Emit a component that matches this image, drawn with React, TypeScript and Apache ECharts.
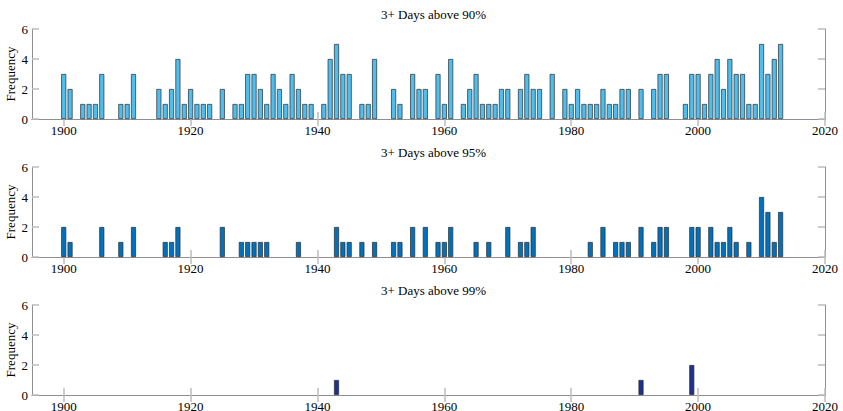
import React, { useEffect, useRef } from "react";
import * as echarts from "echarts";

const titles = ["3+ Days above 90%", "3+ Days above 95%", "3+ Days above 99%"];
const yName = "Frequency";
const xTicks = [1900, 1920, 1940, 1960, 1980, 2000, 2020];
const yTicks = [0, 2, 4, 6];

const years90 = [1900, 1901, 1903, 1904, 1905, 1906, 1909, 1910, 1911, 1915, 1916, 1917, 1918, 1919, 1920, 1921, 1922, 1923, 1925, 1927, 1928, 1929, 1930, 1931, 1932, 1933, 1934, 1935, 1936, 1937, 1938, 1939, 1941, 1942, 1943, 1944, 1945, 1947, 1948, 1949, 1952, 1953, 1955, 1956, 1957, 1959, 1960, 1961, 1963, 1964, 1965, 1966, 1967, 1968, 1969, 1970, 1972, 1973, 1974, 1975, 1977, 1979, 1980, 1981, 1982, 1983, 1984, 1985, 1986, 1987, 1988, 1989, 1991, 1993, 1994, 1995, 1998, 1999, 2000, 2001, 2002, 2003, 2004, 2005, 2006, 2007, 2008, 2009, 2010, 2011, 2012, 2013];
const counts90 = [3, 2, 1, 1, 1, 3, 1, 1, 3, 2, 1, 2, 4, 1, 2, 1, 1, 1, 2, 1, 1, 3, 3, 2, 1, 3, 2, 1, 3, 2, 1, 1, 1, 4, 5, 3, 3, 1, 1, 4, 2, 1, 3, 2, 2, 3, 1, 4, 1, 2, 3, 1, 1, 1, 2, 2, 2, 3, 2, 2, 3, 2, 1, 2, 1, 1, 1, 2, 1, 1, 2, 2, 2, 2, 3, 3, 1, 3, 3, 1, 3, 4, 2, 4, 3, 3, 1, 1, 5, 3, 4, 5];

const years95 = [1900, 1901, 1906, 1909, 1911, 1916, 1917, 1918, 1925, 1928, 1929, 1930, 1931, 1932, 1937, 1943, 1944, 1945, 1947, 1949, 1952, 1953, 1955, 1957, 1959, 1960, 1961, 1965, 1967, 1970, 1972, 1973, 1974, 1983, 1985, 1987, 1988, 1989, 1991, 1993, 1994, 1995, 1999, 2000, 2002, 2003, 2004, 2005, 2006, 2008, 2010, 2011, 2012, 2013];
const counts95 = [2, 1, 2, 1, 2, 1, 1, 2, 2, 1, 1, 1, 1, 1, 1, 2, 1, 1, 1, 1, 1, 1, 2, 2, 1, 1, 2, 1, 1, 2, 1, 1, 2, 1, 2, 1, 1, 1, 2, 1, 2, 2, 2, 2, 2, 1, 1, 2, 1, 1, 4, 3, 1, 3];

const years99 = [1943, 1991, 1999];
const counts99 = [1, 1, 2];

const colors = ["#4DBEEE", "#0072BD", "#1E3190"];
const panelYears = [years90, years95, years99];
const panelCounts = [counts90, counts95, counts99];

const FONT = "Liberation Serif";
const GRID_LEFT = 32;
const GRID_WIDTH = 793;
const GRID_TOPS = [29, 167, 305];
const GRID_HEIGHT = 90;
const LINE = "#8f8f8f";
const TICK = "#bdbdbd";

export default function App() {
  const ref = useRef<HTMLDivElement>(null);
  useEffect(() => {
    document.body.style.margin = "0";
    if (!ref.current) return;
    const chart = echarts.init(ref.current, null, { renderer: "svg" });
    const grid: any[] = [];
    const xAxis: any[] = [];
    const yAxis: any[] = [];
    const series: any[] = [];
    const title: any[] = [];
    const graphic: any[] = [];
    for (let i = 0; i < 3; i++) {
      grid.push({
        left: GRID_LEFT,
        top: GRID_TOPS[i],
        width: GRID_WIDTH,
        height: GRID_HEIGHT,
        containLabel: false,
        outerBoundsMode: "none",
      });
      title.push({
        text: titles[i],
        left: GRID_LEFT + GRID_WIDTH / 2,
        top: GRID_TOPS[i] - 26,
        textAlign: "center",
        textStyle: { fontFamily: FONT, fontSize: 13, fontWeight: "normal", color: "#000" },
      });
      graphic.push({
        type: "text",
        x: 10,
        y: GRID_TOPS[i] + GRID_HEIGHT / 2,
        rotation: Math.PI / 2,
        style: {
          text: yName,
          fontFamily: FONT,
          fontSize: 13,
          fill: "#000",
          align: "center",
          verticalAlign: "middle",
        },
      });
      const xBase = {
        type: "value",
        gridIndex: i,
        min: 1895,
        max: 2020,
        splitLine: { show: false },
        axisLine: { show: true, lineStyle: { color: LINE, width: 1 } },
        axisTick: { show: true, inside: true, length: 7, customValues: xTicks, lineStyle: { color: TICK, width: 1.5 } },
      };
      xAxis.push({
        ...xBase,
        position: "bottom",
        axisLabel: {
          show: true,
          customValues: xTicks,
          formatter: (v: number) => String(v),
          fontFamily: FONT,
          fontSize: 13,
          color: "#000",
          margin: 5,
        },
      });
      xAxis.push({
        ...xBase,
        position: "top",
        axisLabel: { show: false },
      });
      const yBase = {
        type: "value",
        gridIndex: i,
        min: 0,
        max: 6,
        interval: 2,
        splitLine: { show: false },
        axisLine: { show: true, lineStyle: { color: LINE, width: 1 } },
        axisTick: { show: true, inside: true, length: 7, lineStyle: { color: TICK, width: 1.5 } },
      };
      yAxis.push({
        ...yBase,
        position: "left",
        axisLabel: { show: true, customValues: yTicks, fontFamily: FONT, fontSize: 13, color: "#000", margin: 4 },
      });
      yAxis.push({
        ...yBase,
        position: "right",
        axisLabel: { show: false },
      });
      series.push({
        type: "bar",
        xAxisIndex: i * 2,
        yAxisIndex: i * 2,
        barWidth: 5,
        data: panelYears[i].map((y, k) => [y, panelCounts[i][k]]),
        itemStyle: { color: colors[i], borderColor: "#2a2a2a", borderWidth: 0.7 },
        silent: true,
      });
    }
    chart.setOption({
      animation: false,
      backgroundColor: "#fff",
      textStyle: { fontFamily: FONT },
      title,
      grid,
      xAxis,
      yAxis,
      series,
      graphic,
    });
    return () => chart.dispose();
  }, []);
  return <div ref={ref} style={{ width: 843, height: 411 }} />;
}
